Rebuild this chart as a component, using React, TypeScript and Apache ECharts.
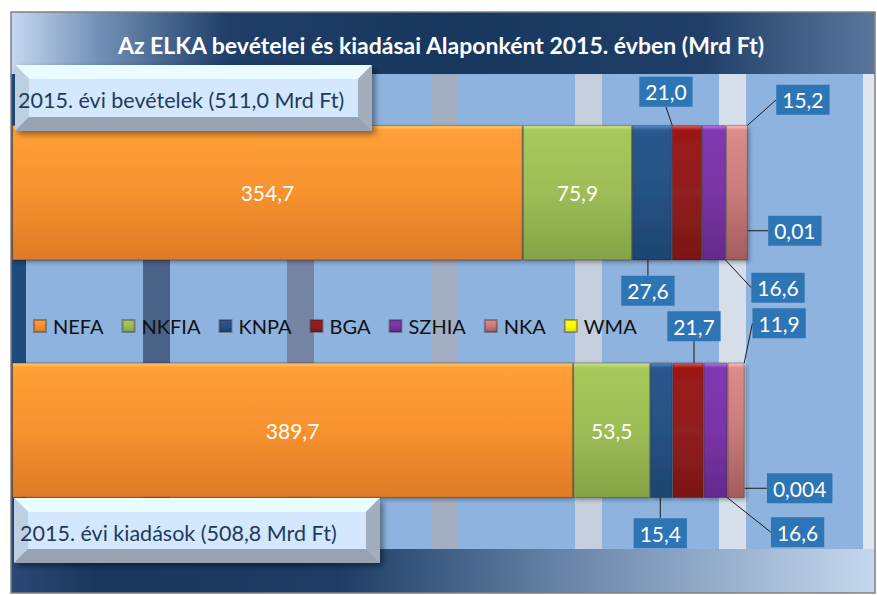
import React, { useEffect, useRef } from "react";
import * as echarts from "echarts";

// ---------- data ----------
const titleText = "Az ELKA bevételei és kiadásai Alaponként 2015. évben (Mrd Ft)";
const categories = ["2015. évi bevételek", "2015. évi kiadások"];
const funds = ["NEFA", "NKFIA", "KNPA", "BGA", "SZHIA", "NKA", "WMA"];
// [bevételek, kiadások]
const nefa = [354.7, 389.7];
const nkfia = [75.9, 53.5];
const knpa = [27.6, 15.4];
const bga = [21.0, 21.7];
const szhia = [16.6, 16.6];
const nka = [15.2, 11.9];
const wma = [0.01, 0.004];
const xMin = 0;
const xMax = 600;
const xInterval = 100;

const fundValues = [nefa, nkfia, knpa, bga, szhia, nka, wma];

// ---------- styling ----------
const FONT = "Lato, 'Open Sans', sans-serif";
const fundColors: Record<string, [string, string, string, string]> = {
  // highlight, top, mid, bottom
  NEFA: ["#ffc766", "#ff9f35", "#f7922f", "#de7a25"],
  NKFIA: ["#cfe58c", "#a6c95b", "#9dbd56", "#84a447"],
  KNPA: ["#5f8fc5", "#29588f", "#245283", "#1c4470"],
  BGA: ["#e55b5b", "#9d1818", "#912020", "#7a1515"],
  SZHIA: ["#b97be7", "#8039b1", "#7a34a6", "#64298b"],
  NKA: ["#ffc2c2", "#dd8b8b", "#c97b7b", "#a35c5c"],
  WMA: ["#ffff99", "#ffff00", "#ffff00", "#e0e000"],
};
const insideFunds = ["NEFA", "NKFIA"];
// label offsets (dx, dy) from bar-segment centre, per category
const labelOffsets: Record<string, [number, number][]> = {
  KNPA: [[-4, 98], [-1, 103]],
  BGA: [[-21, -101], [6, -104]],
  SZHIA: [[64, 95], [82, 102]],
  NKA: [[66, -93], [43, -107]],
  WMA: [[47, 38], [55, 58]],
};
const bandColors = ["#1f4a7c", "#4a6189", "#7785a4", "#a3aec2", "#c4cedd", "#d5dee9", "#dde6f1"];

function fmt(v: number): string {
  const s = v >= 1 ? v.toFixed(1) : String(v);
  return s.replace(".", ",");
}

function grad(c: [string, string, string, string]) {
  return new echarts.graphic.LinearGradient(0, 0, 0, 1, [
    { offset: 0, color: c[0] },
    { offset: 0.035, color: c[1] },
    { offset: 0.5, color: c[2] },
    { offset: 1, color: c[3] },
  ]);
}

function bevelBox(x: number, y: number, w: number, h: number, b: number, text: string, tx: number, ty: number) {
  return {
    type: "group",
    z: 100,
    children: [
      {
        type: "rect",
        z: 100,
        shape: { x, y, width: w, height: h },
        style: { fill: "#a0acbb", shadowBlur: 6, shadowOffsetX: 3, shadowOffsetY: 3, shadowColor: "rgba(0,0,0,0.45)" },
      },
      { type: "polygon", z: 101, shape: { points: [[x, y], [x + w, y], [x + w - b, y + b], [x + b, y + b]] }, style: { fill: "#e9fcff" } },
      { type: "polygon", z: 101, shape: { points: [[x, y], [x + b, y + b], [x + b, y + h - b], [x, y + h]] }, style: { fill: "#bfcfe2" } },
      { type: "polygon", z: 101, shape: { points: [[x, y + h], [x + b, y + h - b], [x + w - b, y + h - b], [x + w, y + h]] }, style: { fill: "#97a3b3" } },
      { type: "polygon", z: 101, shape: { points: [[x + w, y], [x + w, y + h], [x + w - b, y + h - b], [x + w - b, y + b]] }, style: { fill: "#a3aebd" } },
      { type: "rect", z: 101, shape: { x: x + b, y: y + b, width: w - 2 * b, height: h - 2 * b }, style: { fill: "#d3e7fd" } },
      {
        type: "text",
        z: 102,
        x: tx,
        y: ty,
        style: { text, fill: "#1f3a5f", font: `21.5px ${FONT}`, textAlign: "left", textVerticalAlign: "middle" },
      },
    ],
  };
}

export default function App() {
  const ref = useRef<HTMLDivElement>(null);
  useEffect(() => {
    if (!ref.current) return;
    const chart = echarts.init(ref.current, null, { renderer: "svg" });

    const totals = categories.map((_, ci) => fundValues.reduce((s, arr) => s + arr[ci], 0));
    const boxTexts = categories.map((c, i) => `${c} (${fmt(Math.round(totals[i] * 10) / 10)} Mrd Ft)`);

    const series = funds.map((name, i) => {
      const inside = insideFunds.includes(name);
      const offs = labelOffsets[name];
      return {
        name,
        type: "bar",
        stack: "total",
        barWidth: "57%",
        data: fundValues[i],
        itemStyle: {
          color: grad(fundColors[name]),
          borderColor: "rgba(40,30,20,0.35)",
          borderWidth: 1,
          shadowBlur: 4,
          shadowOffsetX: 2,
          shadowOffsetY: 2,
          shadowColor: "rgba(0,0,0,0.35)",
        },
        label: inside
          ? {
              show: true,
              position: "inside",
              color: "#ffffff",
              fontSize: 21,
              fontFamily: FONT,
              formatter: (p: any) => fmt(p.value),
            }
          : {
              show: true,
              position: "inside",
              color: "#ffffff",
              fontSize: 21,
              fontFamily: FONT,
              backgroundColor: "#2e75b6",
              padding: [5, 6, 4, 6],
              formatter: (p: any) => fmt(p.value),
            },
        labelLayout: offs
          ? (p: any) => ({ dx: offs[p.dataIndex][0], dy: offs[p.dataIndex][1] })
          : undefined,
        labelLine: offs ? { show: true, lineStyle: { color: "#1a1a1a", width: 1 } } : undefined,
      };
    });

    chart.setOption({
      animation: false,
      backgroundColor: "#ffffff",
      title: {
        text: titleText,
        left: 436,
        top: 28,
        textAlign: "center",
        textStyle: { color: "#ffffff", fontSize: 23, fontWeight: "bold", fontFamily: FONT },
      },
      legend: {
        data: funds,
        left: 33,
        top: 316,
        padding: 0,
        itemWidth: 12,
        itemHeight: 12,
        itemGap: 18,
        icon: "rect",
        textStyle: { fontSize: 20, fontFamily: FONT, color: "#111111", padding: [0, 0, 0, 2] },
      },
      grid: {
        left: 12,
        right: 1,
        top: 74,
        bottom: 46,
        show: true,
        backgroundColor: "#8eb3df",
        borderWidth: 0,
      },
      xAxis: {
        type: "value",
        min: xMin,
        max: xMax,
        interval: xInterval,
        axisLabel: { show: false },
        axisLine: { show: false },
        axisTick: { show: false },
        splitLine: { show: true, lineStyle: { width: 27, color: bandColors } },
      },
      yAxis: {
        type: "category",
        data: categories,
        inverse: true,
        axisLabel: { show: false },
        axisLine: { show: false },
        axisTick: { show: false },
      },
      series,
      graphic: [
        // title band
        {
          type: "rect",
          z: -10,
          shape: { x: 11, y: 12, width: 864, height: 62 },
          style: {
            fill: new echarts.graphic.LinearGradient(0, 0, 1, 0, [
              { offset: 0, color: "#c6d9f1" },
              { offset: 0.1, color: "#7391b8" },
              { offset: 0.25, color: "#1f3f69" },
              { offset: 0.5, color: "#17375e" },
              { offset: 0.8, color: "#1f3f68" },
              { offset: 1, color: "#5a769d" },
            ]),
          },
        },
        // bottom band
        {
          type: "rect",
          z: 90,
          shape: { x: 11, y: 549, width: 864, height: 44 },
          style: {
            fill: new echarts.graphic.LinearGradient(0, 0, 1, 0, [
              { offset: 0, color: "#2a4a76" },
              { offset: 0.1, color: "#17375e" },
              { offset: 0.38, color: "#1d3d66" },
              { offset: 0.65, color: "#6a87ab" },
              { offset: 1, color: "#c5d8ef" },
            ]),
          },
        },
        // outside covers
        { type: "rect", z: 95, shape: { x: 0, y: 0, width: 11, height: 595 }, style: { fill: "#ffffff" } },
        { type: "rect", z: 95, shape: { x: 875, y: 0, width: 2, height: 595 }, style: { fill: "#ffffff" } },
        // frame
        {
          type: "rect",
          z: 96,
          shape: { x: 11, y: 12, width: 864, height: 581 },
          style: { fill: "none", stroke: "#808080", lineWidth: 1.5 },
        },
        bevelBox(15, 65, 357, 66, 14, boxTexts[0], 18, 100),
        bevelBox(14, 498, 366, 65, 14, boxTexts[1], 20, 533),
      ],
    });
    return () => chart.dispose();
  }, []);
  return <div ref={ref} style={{ position: "fixed", left: 0, top: 0, width: 877, height: 595 }} />;
}
